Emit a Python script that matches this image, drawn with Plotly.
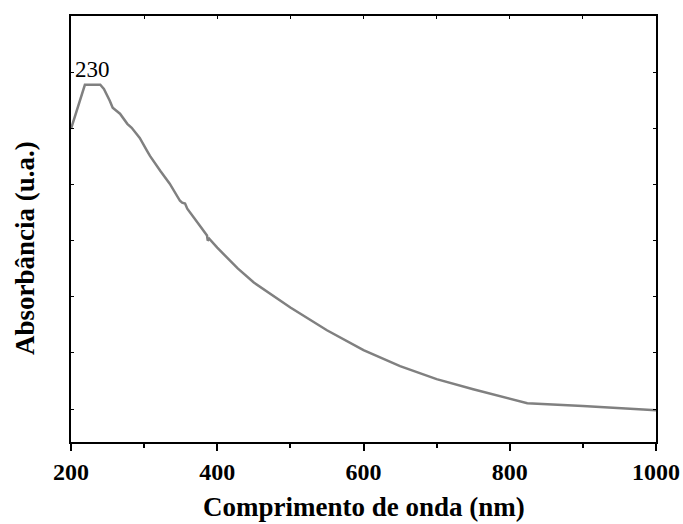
import plotly.graph_objects as go

wavelength = [200, 210, 219, 240, 245, 253, 257, 267, 277, 283, 294, 304, 308, 322, 335, 349,
              352, 356, 359, 376, 386, 387, 389, 400, 428, 450, 500, 550, 600, 650, 700, 750,
              800, 824, 900, 1000]
absorbance = [1.198, 1.283, 1.355, 1.355, 1.340, 1.298, 1.273, 1.252, 1.216, 1.202, 1.166, 1.120,
              1.102, 1.049, 1.003, 0.942, 0.935, 0.932, 0.914, 0.854, 0.818, 0.800, 0.807, 0.775,
              0.701, 0.651, 0.562, 0.481, 0.410, 0.353, 0.307, 0.271, 0.239, 0.221, 0.211, 0.196]
peak_label = "230"
peak_x = 230
x_ticks = [200, 400, 600, 800, 1000]
x_title = "Comprimento de onda (nm)"
y_title = "Absorbância (u.a.)"

FONT = "Liberation Serif"

fig = go.Figure()
fig.add_trace(go.Scatter(x=wavelength, y=absorbance, mode="lines",
                         line=dict(color="#808080", width=2.5), showlegend=False))
fig.add_trace(go.Scatter(x=[200, 1000], y=[None, None], xaxis="x2", showlegend=False,
                         hoverinfo="skip"))

fig.add_annotation(x=peak_x, y=max(absorbance), text=peak_label, showarrow=False,
                   xref="x", yref="y", yanchor="bottom", yshift=1,
                   font=dict(family=FONT, size=23, color="black"))
fig.add_annotation(x=0.5, y=-0.152, xref="paper", yref="paper", text="<b>" + x_title + "</b>",
                   showarrow=False, xanchor="center", yanchor="middle",
                   font=dict(family=FONT, size=27, color="black"))
fig.add_annotation(x=-0.079, y=0.455, xref="paper", yref="paper", text="<b>" + y_title + "</b>",
                   showarrow=False, textangle=-90, xanchor="center", yanchor="middle",
                   font=dict(family=FONT, size=27, color="black"))

fig.update_layout(
    width=683, height=524,
    margin=dict(l=71, r=27, t=16, b=82),
    paper_bgcolor="white", plot_bgcolor="white",
    font=dict(family=FONT, color="black"),
    xaxis=dict(range=[200, 1000], tickvals=x_ticks, ticks="outside", ticklen=7, tickwidth=1.5,
               tickcolor="black", showline=True, linecolor="black", linewidth=2, mirror=True,
               showgrid=False, zeroline=False, automargin=False,
               tickfont=dict(family=FONT, size=24, color="black", weight="bold"),
               minor=dict(dtick=100, ticks="outside", ticklen=4, tickwidth=1.5, tickcolor="black")),
    xaxis2=dict(range=[200, 1000], overlaying="x", side="top", dtick=100, tick0=200,
                ticks="inside", ticklen=3, tickcolor="black", showticklabels=False,
                showgrid=False, zeroline=False, showline=True, linecolor="black", linewidth=2,
                automargin=False),
    yaxis=dict(range=[0.083, 1.6], dtick=0.2, tick0=0.2, ticks="inside", ticklen=3,
               tickcolor="black", showticklabels=False, showline=True, linecolor="black",
               linewidth=2, mirror="ticks", showgrid=False, zeroline=False, automargin=False),
)

fig.write_html("out.html", config={"displayModeBar": False},
               post_script="document.body.style.margin='0';document.body.style.overflow='hidden';")
